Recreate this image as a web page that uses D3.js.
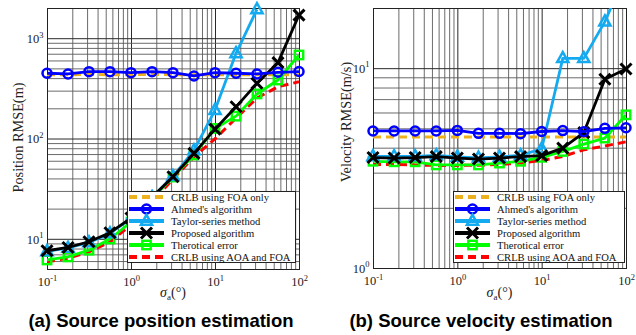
<!DOCTYPE html>
<html>
<head>
<meta charset="utf-8">
<script src="https://cdn.jsdelivr.net/npm/d3@7"></script>
<style>
  body { margin: 0; background: #fff; }
  svg { display: block; }
</style>
</head>
<body>
<svg id="fig" width="636" height="335"></svg>
<script>
// Angle-of-arrival noise levels (degrees), quarter-decade steps
const sigmaA = [0.1, 0.178, 0.316, 0.562, 1, 1.78, 3.16, 5.62, 10, 17.8, 31.6, 56.2, 100];

const legendLabels = [
  "CRLB using FOA only",
  "Ahmed's algorithm",
  "Taylor-series method",
  "Proposed algorithm",
  "Therotical error",
  "CRLB using AOA and FOA"
];

// (a) position RMSE (m)
const posCrlbFoa    = [433, 433, 434, 433, 433, 434, 433, 432, 433, 432, 432, 431, 431];
const posAhmed      = [447, 440, 464, 464, 453, 464, 453, 420, 453, 447, 440, 457, 465];
const posTaylor     = [7.5, 8.1, 9.2, 11.3, 16, 26, 42, 76, 192, 706, 1940, null, null];
const posProposed   = [7.6, 8.2, 9.35, 11.5, 16.1, 26, 41.6, 71, 124, 207, 355, 570, 1700];
const posTheory     = [6.15, 6.6, 7.7, 9.95, 14.7, 25, 41.3, 68.5, 126, 167, 278, 383, 680];
const posCrlbAoaFoa = [5.9, 6.4, 7.4, 9.35, 13.7, 23.3, 39.4, 65.5, 99, 160, 253, 328, 368];

// (b) velocity RMSE (m/s)
const velCrlbFoa    = [4.52, 4.52, 4.52, 4.52, 4.52, 4.52, 4.52, 4.52, 4.52, 4.52, 4.52, 4.52, 4.52];
const velAhmed      = [4.85, 4.85, 4.85, 4.85, 4.88, 4.72, 4.72, 4.70, 4.82, 4.87, 4.81, 5.0, 5.03];
const velTaylor     = [3.62, 3.62, 3.62, 3.66, 3.60, 3.56, 3.60, 3.66, 3.95, 11.2, 11.2, 17.1, 30];
const velProposed   = [3.57, 3.55, 3.57, 3.61, 3.55, 3.51, 3.55, 3.61, 3.65, 3.98, 4.76, 8.8, 9.9];
const velTheory     = [3.42, 3.40, 3.40, 3.28, 3.28, 3.28, 3.35, 3.42, 3.58, 3.83, 4.17, 4.47, 5.84];
const velCrlbAoaFoa = [3.30, 3.30, 3.28, 3.26, 3.26, 3.27, 3.30, 3.35, 3.45, 3.62, 3.90, 4.08, 4.28];

// Tick exponents
const xTickExps = [-1, 0, 1, 2];
const posYTickExps = [1, 2, 3];
const velYTickExps = [0, 1];

// Line/marker appearance per legend entry (same order as legendLabels)
const looks = [
  { color: "#edb120", dash: "8,5", marker: null },
  { color: "#0000ff", dash: null, marker: "circle" },
  { color: "#14aaf0", dash: null, marker: "triangle" },
  { color: "#000000", dash: null, marker: "cross" },
  { color: "#00ff00", dash: null, marker: "square" },
  { color: "#ff0000", dash: "8,5", marker: null }
];
// Paint order (later on top)
const paintOrder = [0, 5, 4, 2, 3, 1];

const svg = d3.select("#fig");
svg.append("rect").attr("width", 636).attr("height", 335).attr("fill", "#fff");

const SERIF = "'Liberation Serif', 'Times New Roman', serif";

function drawMarker(g, type, color) {
  if (type === "circle") {
    g.append("circle").attr("r", 4.5).attr("fill", "none")
      .attr("stroke", color).attr("stroke-width", 2.5);
  } else if (type === "triangle") {
    g.append("path").attr("d", "M0,-6.2L5.6,3.8L-5.6,3.8Z").attr("fill", "none")
      .attr("stroke", color).attr("stroke-width", 2.5).attr("stroke-linejoin", "miter");
  } else if (type === "cross") {
    g.append("path").attr("d", "M-5.5,-5.5L5.5,5.5M-5.5,5.5L5.5,-5.5")
      .attr("stroke", color).attr("stroke-width", 3).attr("fill", "none");
  } else if (type === "square") {
    g.append("rect").attr("x", -4.2).attr("y", -4.2).attr("width", 8.4).attr("height", 8.4)
      .attr("fill", "none").attr("stroke", color).attr("stroke-width", 2.4);
  }
}

function powerLabel(sel, exp, anchor) {
  const t = sel.append("text")
    .attr("font-family", SERIF).attr("font-size", 12.5).attr("fill", "#222")
    .attr("text-anchor", anchor);
  t.append("tspan").text("10");
  t.append("tspan").attr("font-size", 8.5).attr("dy", -5.5).text(String(exp));
  return t;
}

function gridValues(domain) {
  const vals = [];
  const lo = Math.floor(Math.log10(domain[0])), hi = Math.ceil(Math.log10(domain[1]));
  for (let e = lo; e <= hi; e++) {
    for (let k = 1; k <= 9; k++) {
      const v = +(k * Math.pow(10, e)).toPrecision(6);
      if (v >= domain[0] * 0.999 && v <= domain[1] * 1.001) vals.push(v);
    }
  }
  return vals;
}
const isDecade = v => Math.abs(Math.log10(v) - Math.round(Math.log10(v))) < 1e-6;

function drawPanel(p) {
  const x = d3.scaleLog().domain([0.1, 100]).range([p.left, p.right]);
  const y = d3.scaleLog().domain(p.yDomain).range([p.bottom, p.top]);
  const h = p.bottom - p.top, w = p.right - p.left;
  const g = svg.append("g");

  // grid (minor + major) drawn by axes with full-length ticks
  const gx = g.append("g").attr("transform", `translate(0,${p.bottom})`)
    .call(d3.axisBottom(x).tickValues(gridValues([0.1, 100])).tickSize(-h).tickFormat(""));
  gx.select(".domain").remove();
  gx.selectAll(".tick line")
    .attr("stroke", d => isDecade(d) ? "#2a2a2a" : "#5a5a5a")
    .attr("stroke-width", d => isDecade(d) ? 1 : 0.9);

  const gy = g.append("g").attr("transform", `translate(${p.left},0)`)
    .call(d3.axisLeft(y).tickValues(gridValues(p.yDomain)).tickSize(-w).tickFormat(""));
  gy.select(".domain").remove();
  gy.selectAll(".tick line")
    .attr("stroke", d => isDecade(d) ? "#2a2a2a" : "#5a5a5a")
    .attr("stroke-width", d => isDecade(d) ? 1 : 0.9);

  // frame
  g.append("rect").attr("x", p.left + 0.5).attr("y", p.top + 0.5)
    .attr("width", w).attr("height", h)
    .attr("fill", "none").attr("stroke", "#222").attr("stroke-width", 1);

  // tick labels
  const xt = g.append("g").attr("transform", `translate(0,${p.bottom})`)
    .call(d3.axisBottom(x).tickValues(xTickExps.map(e => Math.pow(10, e))).tickSize(0).tickFormat(""));
  xt.select(".domain").remove();
  xt.selectAll(".tick text").remove();
  xt.selectAll(".tick").each(function (d) {
    powerLabel(d3.select(this), Math.round(Math.log10(d)), "middle").attr("y", 17);
  });

  const yt = g.append("g").attr("transform", `translate(${p.left},0)`)
    .call(d3.axisLeft(y).tickValues(p.yTickExps.map(e => Math.pow(10, e))).tickSize(0).tickFormat(""));
  yt.select(".domain").remove();
  yt.selectAll(".tick text").remove();
  yt.selectAll(".tick").each(function (d) {
    powerLabel(d3.select(this), Math.round(Math.log10(d)), "end").attr("x", -3.5).attr("y", 4.3);
  });

  // axis titles
  svg.append("text")
    .attr("transform", `translate(${p.yLabelX},${p.yLabelY}) rotate(-90)`)
    .attr("text-anchor", "middle").attr("dominant-baseline", "central")
    .attr("font-family", SERIF).attr("font-size", 14.3).attr("fill", "#222")
    .text(p.yLabel);

  const xl = svg.append("text")
    .attr("x", (p.left + p.right) / 2).attr("y", 297)
    .attr("text-anchor", "middle")
    .attr("font-family", SERIF).attr("font-size", 14).attr("fill", "#222");
  xl.append("tspan").attr("font-style", "italic").text("σ");
  xl.append("tspan").attr("font-size", 9).attr("dy", 3).text("a");
  xl.append("tspan").attr("dy", -3).text("(°)");

  // data lines, clipped to the axes
  const clipId = "clip-" + p.id;
  svg.append("clipPath").attr("id", clipId).append("rect")
    .attr("x", p.left).attr("y", p.top).attr("width", w).attr("height", h);

  const line = d3.line()
    .defined(d => d[1] != null)
    .x(d => x(d[0])).y(d => y(d[1]));

  const series = p.series;
  paintOrder.forEach(i => {
    const look = looks[i];
    const pts = sigmaA.map((s, j) => [s, series[i][j]]);
    const sg = g.append("g");
    sg.append("path").datum(pts)
      .attr("clip-path", `url(#${clipId})`)
      .attr("d", line)
      .attr("fill", "none").attr("stroke", look.color)
      .attr("stroke-width", look.dash ? 3 : 2.8)
      .attr("stroke-dasharray", look.dash)
      .attr("stroke-linejoin", "round");
    if (look.marker) {
      pts.filter(d => d[1] != null && d[1] >= p.yDomain[0] && d[1] <= p.yDomain[1])
        .forEach(d => {
          const mg = sg.append("g").attr("transform", `translate(${x(d[0])},${y(d[1])})`);
          drawMarker(mg, look.marker, look.color);
        });
    }
  });

  // legend
  const L = p.legend;
  const lg = svg.append("g").attr("transform", `translate(${L.x},${L.y})`);
  lg.append("rect").attr("x", 0.5).attr("y", 0.5).attr("width", L.w).attr("height", L.h)
    .attr("fill", "#fff").attr("stroke", "#222").attr("stroke-width", 1);
  legendLabels.forEach((lab, i) => {
    const look = looks[i];
    const cy = 6 + i * 12;
    const row = lg.append("g").attr("transform", `translate(0,${cy})`);
    row.append("line").attr("x1", 2).attr("x2", 37).attr("y1", 0).attr("y2", 0)
      .attr("stroke", look.color).attr("stroke-width", 4)
      .attr("stroke-dasharray", look.dash);
    if (look.marker) {
      const mg = row.append("g").attr("transform", "translate(19.5,0)");
      drawMarker(mg, look.marker, look.color);
    }
    row.append("text").attr("x", 44).attr("y", 3.6)
      .attr("font-family", SERIF).attr("font-size", 10.6).attr("fill", "#111")
      .text(lab);
  });

  // caption
  svg.append("text").attr("x", p.captionX).attr("y", 327)
    .attr("text-anchor", "middle")
    .attr("font-family", "'Liberation Sans', Arial, sans-serif")
    .attr("font-weight", "bold").attr("font-size", 18.5).attr("fill", "#000")
    .text(p.caption);
}

drawPanel({
  id: "pos",
  left: 47, right: 299, top: 8, bottom: 269,
  yDomain: [5, 2000],
  yTickExps: posYTickExps,
  series: [posCrlbFoa, posAhmed, posTaylor, posProposed, posTheory, posCrlbAoaFoa],
  yLabel: "Position RMSE(m)", yLabelX: 17.5, yLabelY: 137.5,
  legend: { x: 127, y: 191, w: 168, h: 71 },
  caption: "(a) Source position estimation", captionX: 161
});

drawPanel({
  id: "vel",
  left: 373, right: 626, top: 8, bottom: 268,
  yDomain: [1, 20],
  yTickExps: velYTickExps,
  series: [velCrlbFoa, velAhmed, velTaylor, velProposed, velTheory, velCrlbAoaFoa],
  yLabel: "Velocity RMSE(m/s)", yLabelX: 346, yLabelY: 122,
  legend: { x: 453, y: 191, w: 171, h: 71 },
  caption: "(b) Source velocity estimation", captionX: 481
});
</script>
</body>
</html>
